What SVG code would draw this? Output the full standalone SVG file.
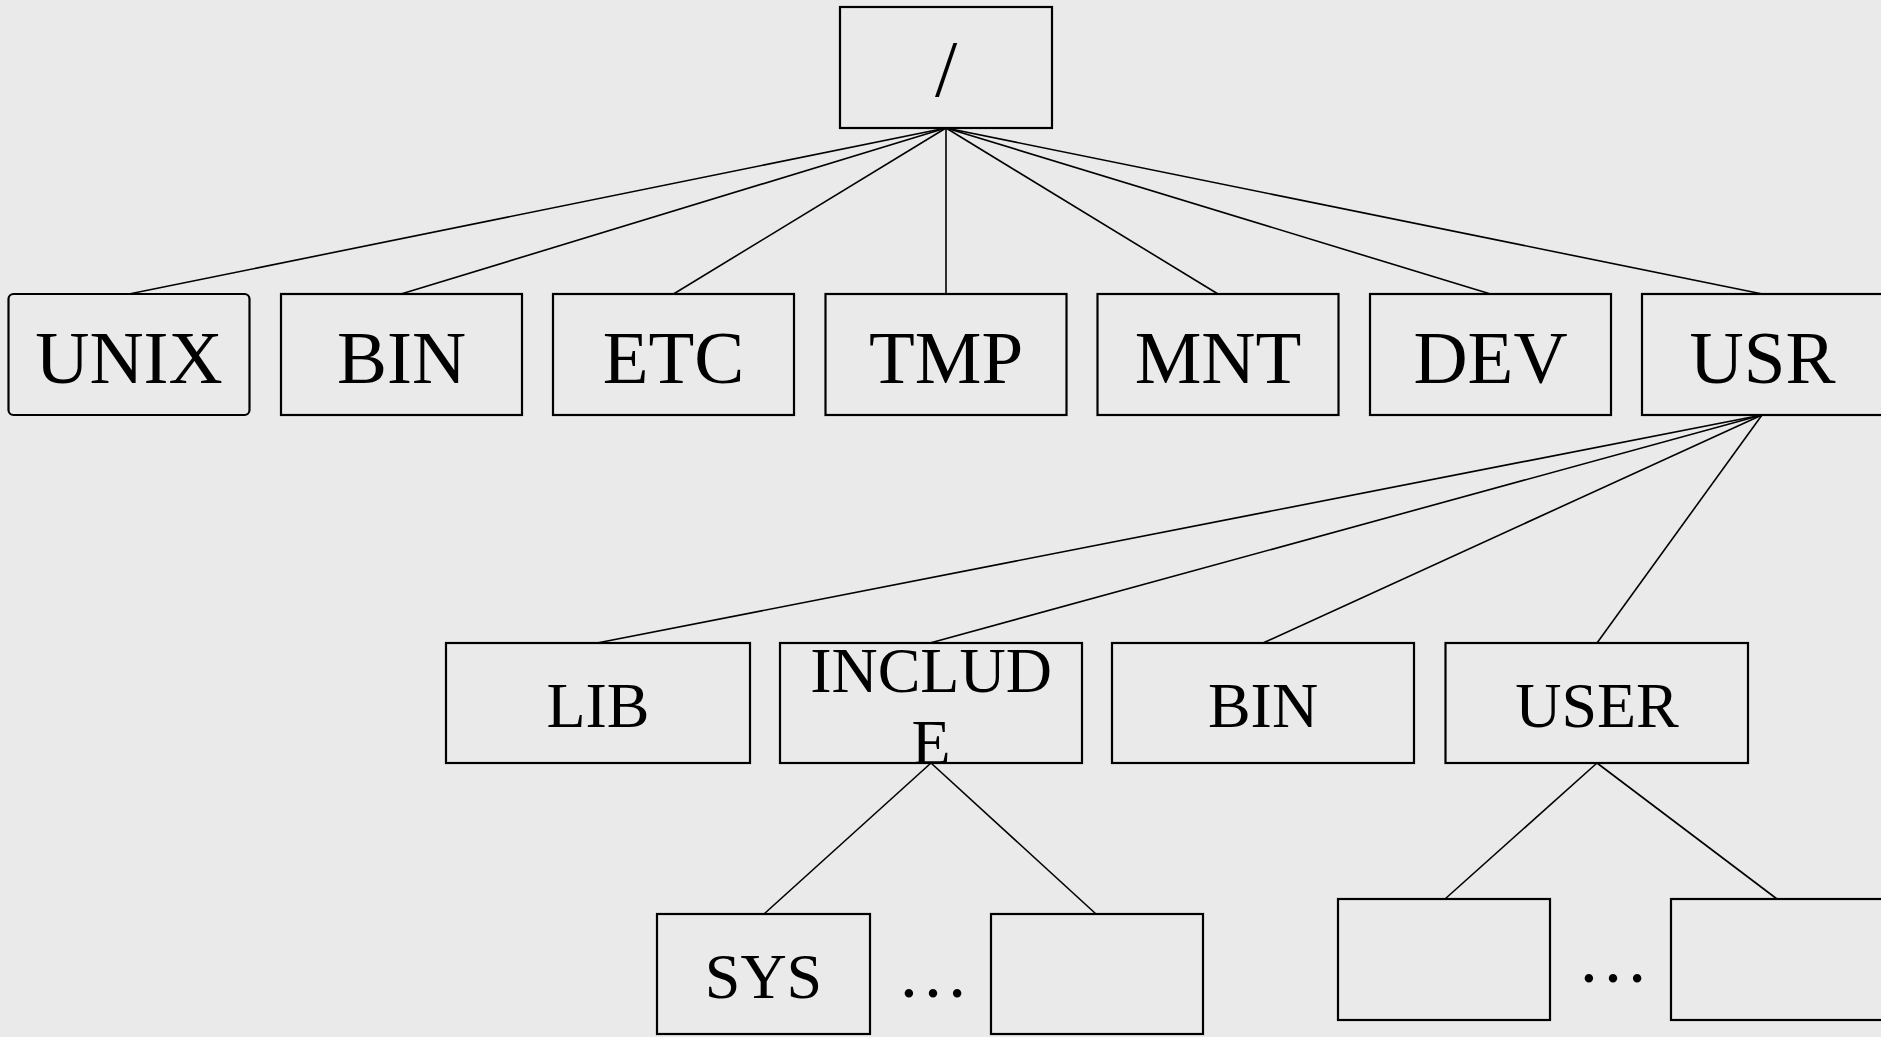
<svg xmlns="http://www.w3.org/2000/svg" width="1881" height="1037" viewBox="0 0 1881 1037">
<style>
.bg{fill:#eaeaea}
.box{fill:#eaeaea;stroke:#000;stroke-width:2.2}
.t1{font-family:"Liberation Serif","Times New Roman",serif;font-size:75px;fill:#000;text-anchor:middle}
.t2{font-family:"Liberation Serif","Times New Roman",serif;font-size:64px;fill:#000;text-anchor:middle}
.dots{font-family:"Liberation Serif","Times New Roman",serif;font-size:72px;fill:#000;text-anchor:middle}
.conn line{stroke:#000;stroke-width:1.6}
</style>
<rect class="bg" x="0" y="0" width="1881" height="1037"/>
<g class="conn" id="connectors">
<line x1="946" y1="128" x2="129" y2="294"/>
<line x1="946" y1="128" x2="401" y2="294"/>
<line x1="946" y1="128" x2="673.5" y2="294"/>
<line x1="946" y1="128" x2="946" y2="294"/>
<line x1="946" y1="128" x2="1218" y2="294"/>
<line x1="946" y1="128" x2="1490.5" y2="294"/>
<line x1="946" y1="128" x2="1762.5" y2="294"/>
<line x1="1762" y1="415" x2="597" y2="643"/>
<line x1="1762" y1="415" x2="930" y2="643"/>
<line x1="1762" y1="415" x2="1263" y2="643"/>
<line x1="1762" y1="415" x2="1597" y2="643"/>
<line x1="931" y1="763" x2="764" y2="914"/>
<line x1="931" y1="763" x2="1096" y2="914"/>
<line x1="1597" y1="763" x2="1445" y2="899"/>
<line x1="1597" y1="763" x2="1777" y2="899"/>
</g>
<g id="root"><rect class="box" x="840" y="7" width="212" height="121"/><text class="t1" x="946" y="96" style="font-size:80px">/</text></g>
<g id="unix"><rect class="box" x="8.5" y="294" width="241" height="121" rx="5"/><text class="t1" x="129" y="383">UNIX</text></g>
<g id="bin"><rect class="box" x="281" y="294" width="241" height="121"/><text class="t1" x="401.5" y="383">BIN</text></g>
<g id="etc"><rect class="box" x="553" y="294" width="241" height="121"/><text class="t1" x="673.5" y="383">ETC</text></g>
<g id="tmp"><rect class="box" x="825.5" y="294" width="241" height="121"/><text class="t1" x="946" y="383">TMP</text></g>
<g id="mnt"><rect class="box" x="1097.5" y="294" width="241" height="121"/><text class="t1" x="1218" y="383">MNT</text></g>
<g id="dev"><rect class="box" x="1370" y="294" width="241" height="121"/><text class="t1" x="1490.5" y="383">DEV</text></g>
<g id="usr"><rect class="box" x="1642" y="294" width="241" height="121"/><text class="t1" x="1762.5" y="383">USR</text></g>
<g id="lib"><rect class="box" x="446" y="643" width="304" height="120"/><text class="t2" x="598" y="727">LIB</text></g>
<g id="include"><rect class="box" x="780" y="643" width="302" height="120"/><text class="t2" x="931" y="692">INCLUD</text><text class="t2" x="931" y="764">E</text></g>
<g id="bin2"><rect class="box" x="1112" y="643" width="302" height="120"/><text class="t2" x="1263" y="727">BIN</text></g>
<g id="user"><rect class="box" x="1445.5" y="643" width="302.5" height="120"/><text class="t2" x="1597" y="727">USER</text></g>
<g id="sys"><rect class="box" x="657" y="914" width="213" height="120"/><text class="t2" x="763.5" y="998">SYS</text></g>
<text class="dots" x="933" y="997">…</text>
<g id="inc-empty"><rect class="box" x="991" y="914" width="212" height="120"/></g>
<g id="user-empty1"><rect class="box" x="1338" y="899" width="212" height="121"/></g>
<text class="dots" x="1613" y="982">…</text>
<g id="user-empty2"><rect class="box" x="1671" y="899" width="213" height="121"/></g>
</svg>
